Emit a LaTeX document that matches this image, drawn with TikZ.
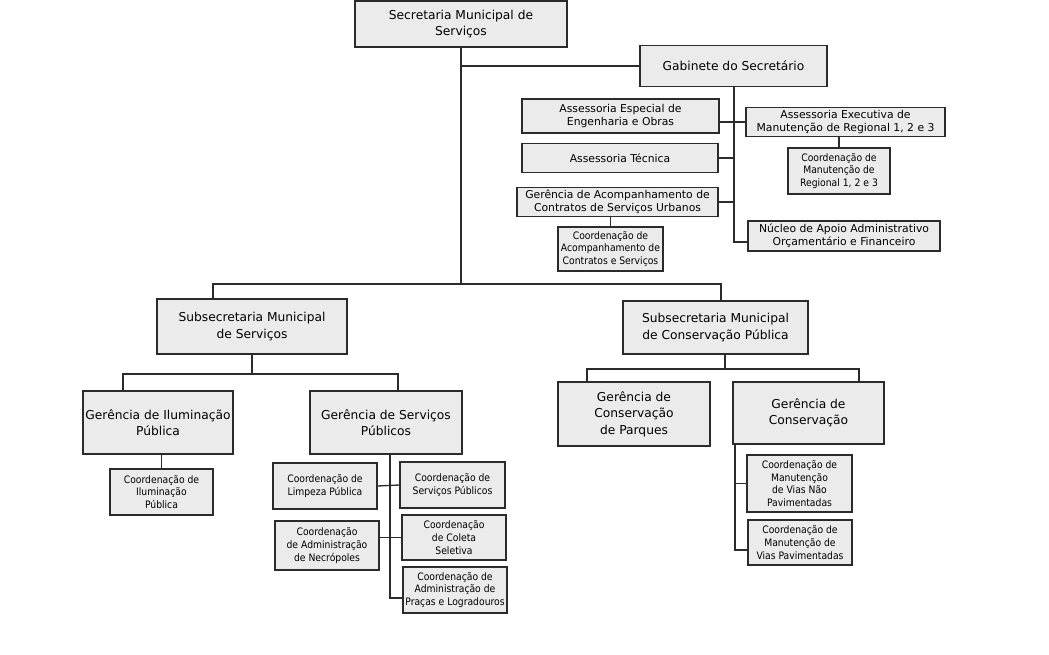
\documentclass[tikz,border=0pt]{standalone}
\usepackage{fontspec}
\setmainfont{DejaVu Sans}
\newfontfamily\condfont{DejaVu Sans Condensed}
\definecolor{boxgray}{HTML}{EBEBEB}
\definecolor{linegray}{HTML}{2B2B2B}
\tikzset{
  unit/.style={draw=linegray, fill=boxgray, line width=0.8pt, align=center, inner sep=1pt},
  bigunit/.style={unit, font=\fontsize{9.2}{12.3}\selectfont},
  midunit/.style={unit, font=\fontsize{8.1}{9.9}\selectfont},
  smallunit/.style={unit, font=\condfont\fontsize{7.7}{9.6}\selectfont},
  link/.style={draw=linegray, line width=1pt}
}
\begin{document}
\begin{tikzpicture}[x=0.75pt, y=-0.75pt]
\useasboundingbox[fill=white] (0,0) rectangle (1049,655);
% secretaria e gabinete
\node[bigunit, minimum width=159pt, minimum height=34.5pt] (sec) at (461,24) {Secretaria Municipal de\\Serviços};
\node[bigunit, minimum width=140.25pt, minimum height=30.75pt] (gab) at (733.5,66) {Gabinete do Secretário};
\node[midunit, minimum width=147.75pt, minimum height=25.5pt] (aesp) at (620.5,116) {Assessoria Especial de\\Engenharia e Obras};
\node[midunit, minimum width=147pt, minimum height=21.75pt] (atec) at (620,158) {Assessoria Técnica};
\node[midunit, minimum width=150.75pt, minimum height=21.75pt] (gacomp) at (617.5,202) {Gerência de Acompanhamento de\\Contratos de Serviços Urbanos};
\node[smallunit, minimum width=78.75pt, minimum height=33pt] (cacomp) at (610.5,249) {Coordenação de\\Acompanhamento de\\Contratos e Serviços};
\node[midunit, minimum width=149.25pt, minimum height=21.75pt] (aexec) at (845.5,122) {Assessoria Executiva de\\Manutenção de Regional 1, 2 e 3};
\node[smallunit, minimum width=76.5pt, minimum height=34.5pt] (cmreg) at (839,171) {Coordenação de\\Manutenção de\\Regional 1, 2 e 3};
\node[midunit, minimum width=144pt, minimum height=22.5pt] (nucleo) at (844,236) {Núcleo de Apoio Administrativo\\Orçamentário e Financeiro};
% subsecretarias
\node[bigunit, minimum width=142.5pt, minimum height=41.25pt] (subserv) at (252,326.5) {Subsecretaria Municipal\\de Serviços};
\node[bigunit, minimum width=138.75pt, minimum height=39.75pt] (subcons) at (715.5,327.5) {Subsecretaria Municipal\\de Conservação Pública};
% servicos
\node[bigunit, minimum width=112.5pt, minimum height=47.25pt] (gilum) at (158,422.5) {Gerência de Iluminação\\Pública};
\node[smallunit, minimum width=77.25pt, minimum height=34.5pt] (cilum) at (161.5,492) {Coordenação de\\Iluminação\\Pública};
\node[bigunit, minimum width=114pt, minimum height=47.25pt] (gserv) at (386,422.5) {Gerência de Serviços\\Públicos};
\node[smallunit, minimum width=78pt, minimum height=34.5pt] (climp) at (325,486) {Coordenação de\\Limpeza Pública};
\node[smallunit, minimum width=78.75pt, minimum height=34.5pt] (cservp) at (452.5,485) {Coordenação de\\Serviços Públicos};
\node[smallunit, minimum width=78pt, minimum height=36.75pt] (cnecr) at (327,545.5) {Coordenação\\de Administração\\de Necrópoles};
\node[smallunit, minimum width=78pt, minimum height=33.75pt] (ccol) at (454,537.5) {Coordenação\\de Coleta\\Seletiva};
\node[smallunit, minimum width=78pt, minimum height=34.5pt] (cpracas) at (455,590) {Coordenação de\\Administração de\\Praças e Logradouros};
% conservacao
\node[bigunit, minimum width=114pt, minimum height=48pt] (gparq) at (634,414) {Gerência de\\Conservação\\de Parques};
\node[bigunit, minimum width=113.25pt, minimum height=46.5pt] (gcons) at (808.5,413) {Gerência de\\Conservação};
\node[smallunit, minimum width=78.75pt, minimum height=42.75pt] (cvnp) at (799.5,483.5) {Coordenação de\\Manutenção\\de Vias Não\\Pavimentadas};
\node[smallunit, minimum width=78pt, minimum height=33.75pt] (cvp) at (800,542.5) {Coordenação de\\Manutenção de\\Vias Pavimentadas};
% ligacoes
\coordinate (tl) at (213,284);
\coordinate (tr) at (721,284);
\coordinate (sl) at (123,374);
\coordinate (sr) at (398,374);
\coordinate (cl) at (587,369);
\coordinate (cr) at (859,369);
\coordinate (cm) at (725,369);
\coordinate (gv) at (734,242);
\coordinate (sv) at (390,598);
\coordinate (cv) at (735,550);
\path[link] (sec.south) -- (sec.south |- tl);
\path[link] (sec.south |- gab.west) -- (gab.west);
\path[link] (tl |- subserv.north) -- (tl) -- (tr) -- (tr |- subcons.north);
\path[link] (gab.south -| gv) -- (gv) -- (gv -| nucleo.west);
\path[link] (aexec.west) -- (aexec.west -| aesp.east);
\path[link] (atec.east) -- (atec.east -| gv);
\path[link] (gacomp.east) -- (gacomp.east -| gv);
\path[link] (cacomp.north) -- (cacomp.north |- gacomp.south);
\path[link] (cmreg.north) -- (cmreg.north |- aexec.south);
\path[link] (subserv.south) -- (subserv.south |- sl);
\path[link] (sl |- gilum.north) -- (sl) -- (sr) -- (sr |- gserv.north);
\path[link] (cilum.north) -- (cilum.north |- gilum.south);
\path[link] (sv |- gserv.south) -- (sv) -- (sv -| cpracas.west);
\path[link] (climp.east) -- (cservp.west);
\path[link] (ccol.west) -- (ccol.west -| cnecr.east);
\path[link] (cm |- subcons.south) -- (cm);
\path[link] (cl |- gparq.north) -- (cl) -- (cr) -- (cr |- gcons.north);
\path[link] (cv |- gcons.south) -- (cv) -- (cv -| cvp.west);
\path[link] (cvnp.west) -- (cvnp.west -| cv);
\end{tikzpicture}
\end{document}
